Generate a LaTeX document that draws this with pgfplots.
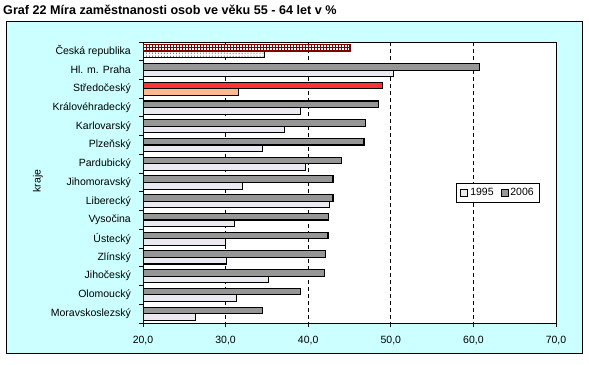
\documentclass[border=0pt]{standalone}
\usepackage{fontspec}
\setmainfont{Liberation Sans}
\usepackage{pgfplots}
\pgfplotsset{compat=1.18}
\usepackage{pgfplotstable}
\usetikzlibrary{patterns}
\definecolor{bgcyan}{HTML}{CCFFFF}
\definecolor{g06}{HTML}{969696}
\definecolor{g95}{HTML}{ECEAF0}
\definecolor{redA}{HTML}{FF3333}
\definecolor{salmon}{HTML}{FFB890}
\definecolor{brick}{HTML}{800000}

% y index, 1995, 2006
\pgfplotstableread{
y v95 v06
1 50.3 60.7
3 39.05 48.5
4 37.15 46.9
5 34.5 46.75
6 39.7 44.0
7 32.05 43.0
8 42.6 43.0
9 31.1 42.5
10 30.0 42.4
11 30.1 42.1
12 35.2 42.0
13 31.3 39.1
14 26.35 34.5
}\mainrows
\pgfplotstableread{
y v95 v06
0 34.7 45.1
}\czrow
\pgfplotstableread{
y v95 v06
2 31.6 49.0
}\strow

\begin{document}
\begin{tikzpicture}[x=1bp,y=1bp]
\useasboundingbox (0,0) rectangle (589,364);
\fill[white] (0,0) rectangle (589,364);
\draw[fill=bgcyan,line width=1bp] (6,11) rectangle (582,342);
\node[anchor=west,font=\fontsize{12.6bp}{14bp}\selectfont\bfseries,inner sep=0pt] at (3,354) {Graf 22 Míra zaměstnanosti osob ve věku 55 - 64 let v \%};
\node[rotate=90,font=\fontsize{10.5bp}{12bp}\selectfont,inner sep=0pt] at (38,183) {kraje};
\begin{axis}[
  at={(143bp,41bp)}, anchor=south west,
  scale only axis, width=413bp, height=281bp,
  xmin=20, xmax=70, ymin=-0.5, ymax=14.5,
  y dir=reverse,
  axis background/.style={fill=white},
  axis line style={line width=0.9bp},
  xbar, bar width=0.35,
  xtick={20,30,...,70},
  xticklabel style={font=\fontsize{10.5bp}{12bp}\selectfont, inner sep=0pt, yshift=-9bp},
  /pgf/number format/assume math mode=true,
  /pgf/number format/.cd, fixed, fixed zerofill, precision=1, use comma, /pgfplots/.cd,
  xtick pos=bottom, xtick align=outside,
  ytick={0,...,14},
  yticklabels={Česká republika,Hl. m. Praha,Středočeský,Královéhradecký,Karlovarský,Plzeňský,Pardubický,Jihomoravský,Liberecký,Vysočina,Ústecký,Zlínský,Jihočeský,Olomoucký,Moravskoslezský},
  yticklabel style={font=\fontsize{10.5bp}{12bp}\selectfont, inner sep=0pt, xshift=-8bp},
  ytick pos=left,
  major y tick style={draw=none},
  minor ytick={-0.5,0.5,...,14.5},
  minor y tick style={line width=0.9bp, black},
  minor tick length=4bp,
  major tick length=4bp,
  major x tick style={line width=0.9bp, black},
  xmajorgrids, major x grid style={black, line width=0.9bp, dash pattern=on 4bp off 3bp},
  legend style={at={(0.758,0.498)}, anchor=north west, draw=black, line width=0.8bp, fill=white,
    font=\fontsize{10.5bp}{12bp}\selectfont, legend columns=2, inner xsep=4bp, inner ysep=3bp,
    /tikz/every even column/.append style={column sep=5bp}},
  legend image code/.code={\draw[#1,line width=0.8bp,draw=black] (0bp,-3.5bp) rectangle (7bp,3.5bp);},
  legend cell align=left,
]
\addplot[draw=black, line width=1.1bp, fill=g95, bar shift=0.175] table[x=v95,y=y]{\mainrows};
\addplot[draw=black, line width=1.1bp, fill=g06, bar shift=-0.175] table[x=v06,y=y]{\mainrows};
\addplot[forget plot, draw=black, line width=1.1bp, fill=salmon, bar shift=0.175] table[x=v95,y=y]{\strow};
\addplot[forget plot, draw=black, line width=1.1bp, fill=redA, bar shift=-0.175] table[x=v06,y=y]{\strow};
\addplot[forget plot, draw=black, line width=1.1bp, fill=white, postaction={pattern=dots, pattern color=black}, bar shift=0.175] table[x=v95,y=y]{\czrow};
\addplot[forget plot, draw=brick, line width=1.1bp, fill=white, postaction={pattern=grid, pattern color=brick}, bar shift=-0.175] table[x=v06,y=y]{\czrow};
\legend{1995,2006}
\end{axis}
\end{tikzpicture}
\end{document}
